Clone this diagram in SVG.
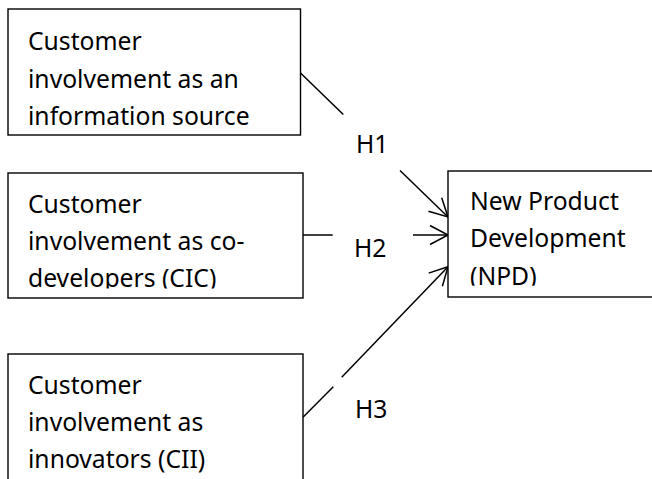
<svg xmlns="http://www.w3.org/2000/svg" width="652" height="479" viewBox="0 0 652 479">
  <style>
    .box { fill: #ffffff; stroke: #000000; stroke-width: 1.4; }
    .txt { font-family: "Noto Sans", "Open Sans", "DejaVu Sans", sans-serif; font-size: 24.7px; fill: #000000; }
    .link { fill: none; stroke: #000000; stroke-width: 1.5; }
  </style>
  <defs>
    <marker id="openArrow" markerUnits="userSpaceOnUse" markerWidth="24" markerHeight="24" viewBox="-20 -12 22 24" refX="0" refY="0" orient="auto">
      <path d="M-18,-9.5 L0,0 L-18,9.5" fill="none" stroke="#000000" stroke-width="1.5"/>
    </marker>
    <!-- inner text areas: lines that overflow are cut at the inner margin -->
    <clipPath id="clipCIC"><rect x="8" y="173" width="295" height="115.5"/></clipPath>
    <clipPath id="clipNPD"><rect x="448" y="171" width="210" height="114.7"/></clipPath>
  </defs>

  <rect width="652" height="479" fill="#ffffff"/>

  <g id="connectors">
    <!-- H1: information source to NPD -->
    <line class="link" x1="300.5" y1="73" x2="343.3" y2="114.5"/>
    <line class="link" x1="400" y1="170.5" x2="448" y2="217" marker-end="url(#openArrow)"/>
    <text class="txt" x="356" y="153">H1</text>
    <!-- H2: co-developers to NPD -->
    <line class="link" x1="303" y1="235" x2="332.7" y2="235"/>
    <line class="link" x1="413" y1="235" x2="448" y2="235" marker-end="url(#openArrow)"/>
    <text class="txt" x="354" y="256.5">H2</text>
    <!-- H3: innovators to NPD -->
    <line class="link" x1="303" y1="417.3" x2="333.3" y2="386.7"/>
    <line class="link" x1="341.7" y1="377.3" x2="448" y2="266.7" marker-end="url(#openArrow)"/>
    <text class="txt" x="355" y="418.3">H3</text>
  </g>

  <g id="node-cis">
    <rect class="box" x="8" y="9" width="292.5" height="126"/>
    <text class="txt" x="28" y="50">Customer</text>
    <text class="txt" x="28" y="87.5">involvement as an</text>
    <text class="txt" x="28" y="125">information source</text>
  </g>

  <g id="node-cic">
    <rect class="box" x="8" y="173" width="295" height="125"/>
    <g clip-path="url(#clipCIC)">
      <text class="txt" x="28" y="212.5">Customer</text>
      <text class="txt" x="28" y="250">involvement as co-</text>
      <text class="txt" x="28" y="287">developers (CIC)</text>
    </g>
  </g>

  <g id="node-cii">
    <rect class="box" x="8" y="354" width="295" height="140"/>
    <text class="txt" x="28" y="394">Customer</text>
    <text class="txt" x="28" y="431">involvement as</text>
    <text class="txt" x="28" y="468">innovators (CII)</text>
  </g>

  <g id="node-npd">
    <rect class="box" x="448" y="171" width="215" height="126"/>
    <g clip-path="url(#clipNPD)">
      <text class="txt" x="470" y="210">New Product</text>
      <text class="txt" x="470" y="247">Development</text>
      <text class="txt" x="470" y="284.5">(NPD)</text>
    </g>
  </g>
</svg>
